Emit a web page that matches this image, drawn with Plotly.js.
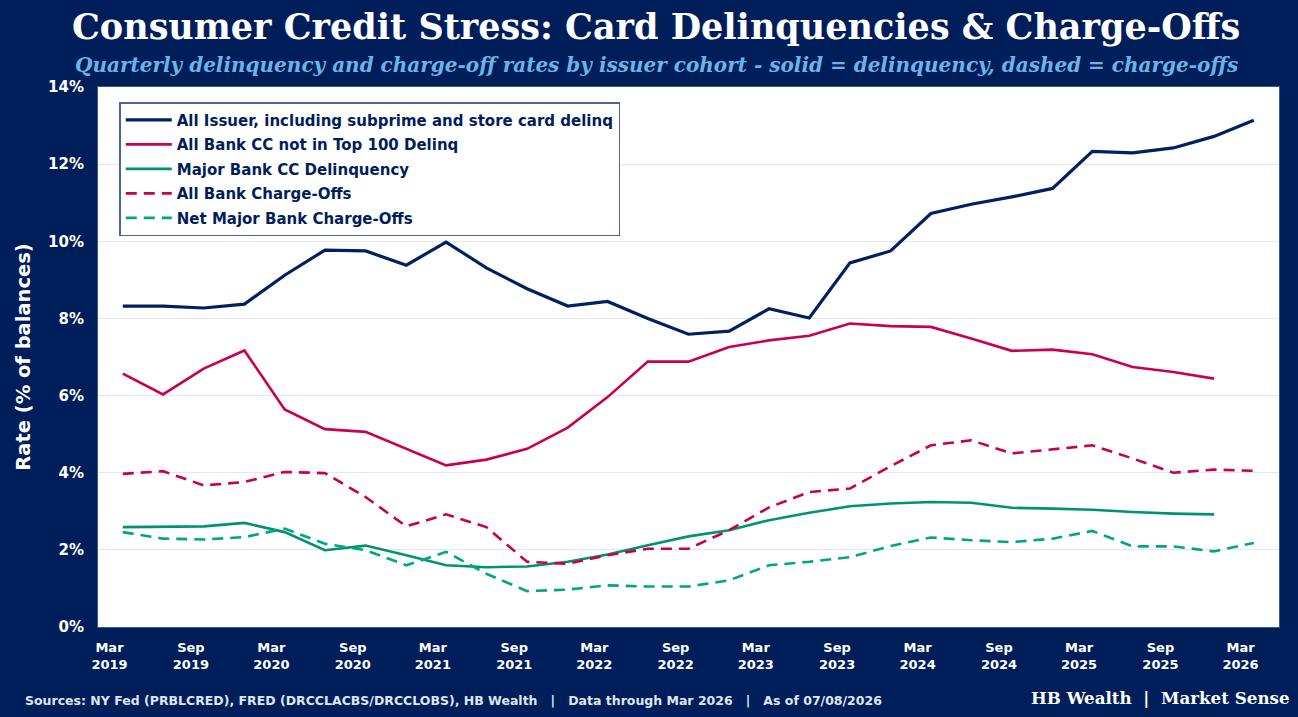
<!DOCTYPE html>
<html>
<head>
<meta charset="utf-8">
<script src="https://cdn.plot.ly/plotly-3.0.1.min.js"></script>
<style>
  html, body { margin: 0; padding: 0; background: #001e5a; }
  #chart { width: 1298px; height: 717px; }
</style>
</head>
<body>
<div id="chart"></div>
<script>
// quarter-end dates, Mar 2019 .. Mar 2026
const quarters = [
    '2019-03-31', '2019-06-30', '2019-09-30', '2019-12-31',
    '2020-03-31', '2020-06-30', '2020-09-30', '2020-12-31',
    '2021-03-31', '2021-06-30', '2021-09-30', '2021-12-31',
    '2022-03-31', '2022-06-30', '2022-09-30', '2022-12-31',
    '2023-03-31', '2023-06-30', '2023-09-30', '2023-12-31',
    '2024-03-31', '2024-06-30', '2024-09-30', '2024-12-31',
    '2025-03-31', '2025-06-30', '2025-09-30', '2025-12-31',
    '2026-03-31'
];

// delinquency rates (%)
const allIssuerDelinq = [8.32, 8.32, 8.27, 8.37, 9.12, 9.77, 9.75, 9.38, 9.98, 9.31, 8.77, 8.32, 8.44, 8.00, 7.59, 7.67,
    8.25, 8.01, 9.44, 9.75, 10.72, 10.96, 11.15, 11.37, 12.33, 12.29, 12.42, 12.72, 13.14];
const bankNotTop100Delinq = [6.57, 6.03, 6.70, 7.17, 5.64, 5.13, 5.06, 4.63, 4.19, 4.34, 4.62, 5.17, 5.96, 6.88, 6.88, 7.26,
    7.43, 7.55, 7.87, 7.80, 7.78, 7.48, 7.16, 7.19, 7.07, 6.74, 6.61, 6.44];
const majorBankDelinq = [2.59, 2.60, 2.61, 2.70, 2.46, 1.99, 2.11, 1.86, 1.60, 1.55, 1.57, 1.69, 1.88, 2.12, 2.35, 2.51,
    2.77, 2.96, 3.13, 3.20, 3.24, 3.22, 3.09, 3.07, 3.04, 2.98, 2.94, 2.92];

// charge-off rates (%)
const allBankChargeOffs = [3.97, 4.04, 3.67, 3.76, 4.02, 3.99, 3.37, 2.61, 2.92, 2.59, 1.69, 1.64, 1.86, 2.03, 2.03, 2.51,
    3.10, 3.50, 3.59, 4.17, 4.71, 4.84, 4.50, 4.60, 4.71, 4.37, 4.00, 4.08, 4.05];
const netMajorChargeOffs = [2.46, 2.29, 2.27, 2.33, 2.55, 2.16, 1.99, 1.60, 1.95, 1.38, 0.93, 0.97, 1.08, 1.05, 1.05, 1.21,
    1.60, 1.69, 1.81, 2.10, 2.32, 2.25, 2.20, 2.29, 2.49, 2.09, 2.09, 1.96, 2.18];

const seriesNames = [
    'All Issuer, including subprime and store card delinq',
    'All Bank CC not in Top 100 Delinq',
    'Major Bank CC Delinquency',
    'All Bank Charge-Offs',
    'Net Major Bank Charge-Offs'
];

const NAVY = '#001e5a';
const RED = '#c8004f';
const GREEN = '#00936f';
const GREEN_DASH = '#00a585';

const mkLine = (name, y, color, width, dash, i) => ({
    type: 'scatter',
    mode: 'lines',
    name: name,
    legendgroup: 'g' + i,
    x: quarters.slice(0, y.length),
    y: y,
    line: { color: color, width: width, dash: dash || 'solid' },
    hovertemplate: '%{x|%b %Y}: %{y:.2f}%<extra>' + name + '</extra>'
});

const data = [
    mkLine(seriesNames[0], allIssuerDelinq, '#002060', 3.2, null, 0),
    mkLine(seriesNames[1], bankNotTop100Delinq, RED, 2.6, null, 1),
    mkLine(seriesNames[2], majorBankDelinq, GREEN, 2.6, null, 2),
    mkLine(seriesNames[3], allBankChargeOffs, RED, 2.6, '11px,7px', 3),
    mkLine(seriesNames[4], netMajorChargeOffs, GREEN_DASH, 2.6, '11px,7px', 4)
];

const layout = {
    width: 1298,
    height: 717,
    paper_bgcolor: NAVY,
    plot_bgcolor: '#ffffff',
    margin: { t: 87, b: 90, l: 98, r: 19 },
    showlegend: true,
    legend: {
        x: 0.018, y: 0.972, xanchor: 'left', yanchor: 'top',
        bgcolor: '#ffffff',
        bordercolor: '#4a6590',
        borderwidth: 1.5,
        itemwidth: 46,
        font: { family: 'DejaVu Sans', size: 15, color: '#001e5a', weight: 'bold' },
        tracegroupgap: 2
    },
    xaxis: {
        type: 'date',
        range: ['2019-02-03', '2026-05-27'],
        tick0: '2019-03-01',
        dtick: 'M6',
        tickformat: '%b<br>%Y',
        showgrid: false,
        zeroline: false,
        showline: true,
        linecolor: '#3c5a8c',
        linewidth: 1,
        mirror: true,
        ticks: '',
        ticklabelstandoff: 8,
        tickfont: { family: 'DejaVu Sans', size: 13, color: '#ffffff', weight: 'bold' }
    },
    yaxis: {
        range: [0, 14],
        dtick: 2,
        ticksuffix: '%',
        showgrid: true,
        gridcolor: '#e4e7ef',
        gridwidth: 1,
        zeroline: false,
        showline: true,
        linecolor: '#3c5a8c',
        linewidth: 1,
        mirror: true,
        ticks: '',
        ticklabelstandoff: 10,
        tickfont: { family: 'DejaVu Sans', size: 15, color: '#ffffff', weight: 'bold' },
        title: {
            text: 'Rate (% of balances)',
            font: { family: 'DejaVu Sans', size: 19.5, color: '#ffffff', weight: 'bold' },
            standoff: 12
        }
    },
    annotations: [
        {
            xref: 'paper', yref: 'paper', x: 0.4725, y: 1, yshift: 61,
            xanchor: 'center', yanchor: 'middle', showarrow: false,
            text: '<b>Consumer Credit Stress: Card Delinquencies &amp; Charge-Offs</b>',
            font: { family: 'DejaVu Serif', size: 35, color: '#ffffff' }
        },
        {
            xref: 'paper', yref: 'paper', x: 0.4725, y: 1, yshift: 22,
            xanchor: 'center', yanchor: 'middle', showarrow: false,
            text: '<b><i>Quarterly delinquency and charge-off rates by issuer cohort - solid = delinquency, dashed = charge-offs</i></b>',
            font: { family: 'DejaVu Serif', size: 20, color: '#6cb4e8' }
        },
        {
            xref: 'paper', yref: 'paper', x: -0.0635, y: 0, yshift: -73,
            xanchor: 'left', yanchor: 'middle', showarrow: false,
            text: '<b>Sources: NY Fed (PRBLCRED), FRED (DRCCLACBS/DRCCLOBS), HB Wealth   |   Data through Mar 2026   |   As of 07/08/2026</b>',
            font: { family: 'DejaVu Sans', size: 12.5, color: '#dfe5f0' }
        },
        {
            xref: 'paper', yref: 'paper', x: 1.0106, y: 0, yshift: -71,
            xanchor: 'right', yanchor: 'middle', showarrow: false,
            text: '<b>HB Wealth  |  Market Sense</b>',
            font: { family: 'DejaVu Serif', size: 16.7, color: '#ffffff' }
        }
    ]
};

Plotly.newPlot('chart', data, layout, { displayModeBar: false, responsive: false });
</script>
</body>
</html>
